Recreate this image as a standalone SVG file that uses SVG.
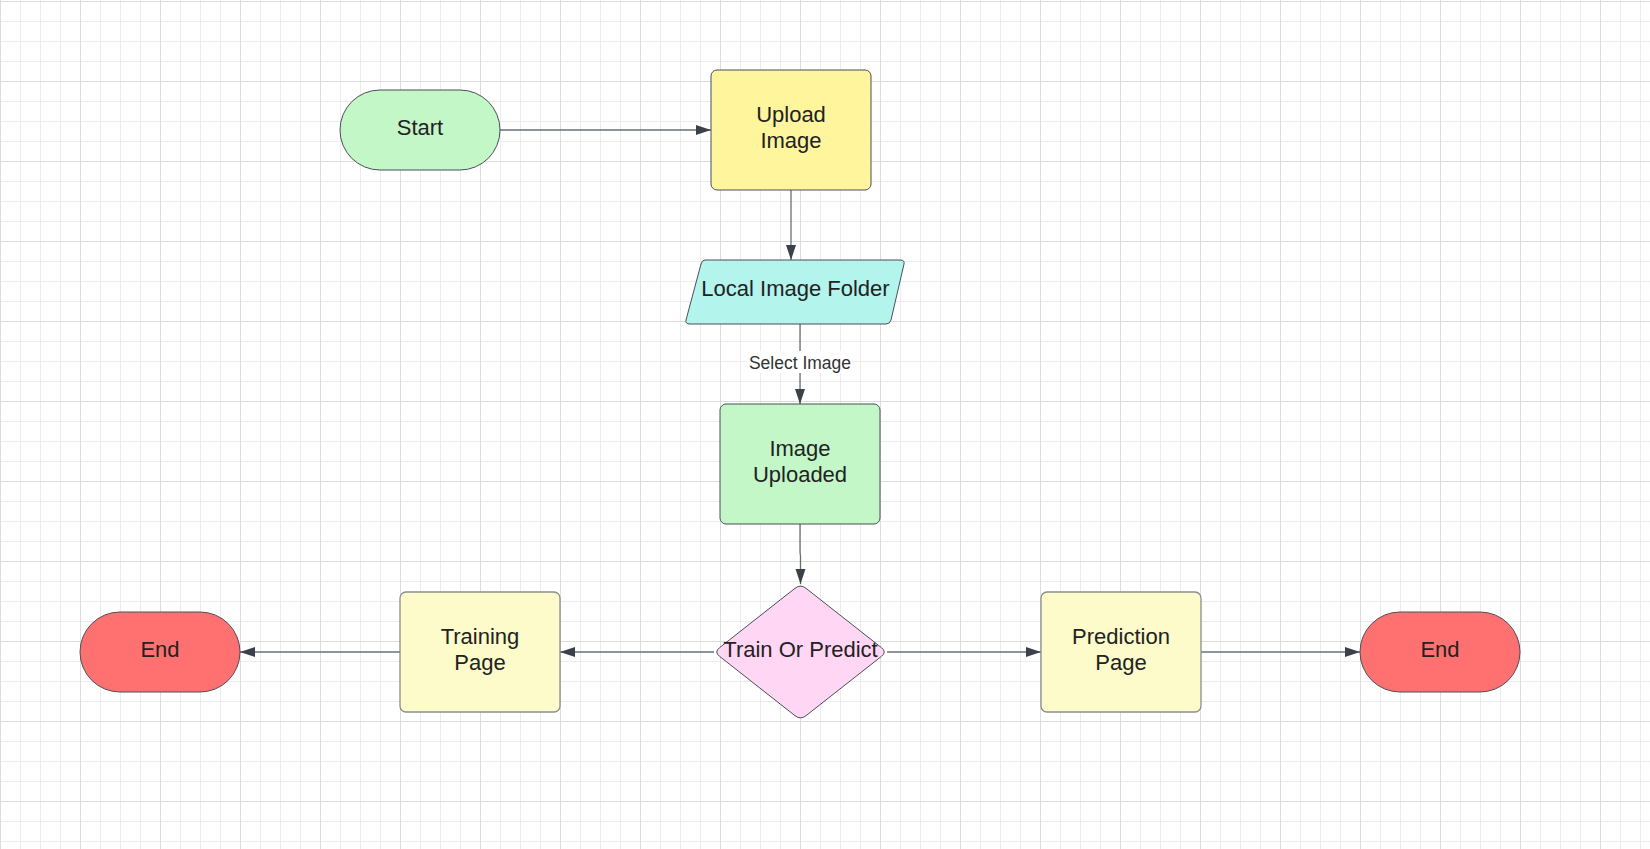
<svg xmlns="http://www.w3.org/2000/svg" width="1650" height="849" viewBox="0 0 1650 849">
<defs>
<pattern id="minor" x="0" y="1" width="20" height="20" patternUnits="userSpaceOnUse">
<rect x="0" y="0" width="20" height="1" fill="#ececec"/>
<rect x="0" y="0" width="1" height="20" fill="#ececec"/>
</pattern>
<pattern id="major" x="0" y="1" width="80" height="80" patternUnits="userSpaceOnUse">
<rect x="0" y="0" width="80" height="1" fill="#dcdcdc"/>
<rect x="0" y="0" width="1" height="80" fill="#dcdcdc"/>
</pattern>
<marker id="arrow" markerUnits="userSpaceOnUse" markerWidth="16" markerHeight="11" refX="15" refY="5" orient="auto">
<path d="M0,0 L15,5 L0,10 Z" fill="#3a414a"/>
</marker>
</defs>
<style>
.edge{fill:none;stroke:#6a7078;stroke-width:1.3;marker-end:url(#arrow)}
.shape{stroke:#4a4f57;stroke-width:1}
.page{stroke:#8a8d90;stroke-width:1.3}
.lbl{font-family:"Liberation Sans",Arial,sans-serif;font-size:22px;fill:#222;text-anchor:middle}
.elbl{font-family:"Liberation Sans",Arial,sans-serif;font-size:17.5px;fill:#333;text-anchor:middle}
</style>
<rect width="1650" height="849" fill="#ffffff"/>
<rect width="1650" height="849" fill="url(#minor)"/>
<rect width="1650" height="849" fill="url(#major)"/>

<g id="connectors">
<path class="edge" d="M500,130 L711,130"/>
<path class="edge" d="M791,190 L791,260"/>
<path class="edge" d="M800,324 L800,404"/>
<rect x="747" y="351" width="106" height="22" fill="#ffffff"/>
<text class="elbl" x="800" y="369">Select Image</text>
<path class="edge" d="M800,524 L800,552 L800.5,556 L800.5,584"/>
<path class="edge" d="M714,652 L560,652"/>
<path class="edge" d="M400,652 L240,652"/>
<path class="edge" d="M887,652 L1041,652"/>
<path class="edge" d="M1201,652 L1360,652"/>
</g>

<g id="start">
<rect class="shape" x="340" y="90" width="160" height="80" rx="40" fill="#c3f7c8"/>
<text class="lbl" x="420" y="135">Start</text>
</g>

<g id="upload-image">
<rect class="shape" x="711" y="70" width="160" height="120" rx="6" fill="#fff59d"/>
<text class="lbl" x="791" y="122">Upload</text>
<text class="lbl" x="791" y="148">Image</text>
</g>

<g id="local-image-folder">
<path class="shape" d="M705,260 L900,260 Q905,260 904,264 L891,320 Q890,324 886,324 L690,324 Q685,324 686,320 L701,264 Q702,260 705,260 Z" fill="#b3f4ec"/>
<text class="lbl" x="795.5" y="296">Local Image Folder</text>
</g>

<g id="image-uploaded">
<rect class="shape" x="720" y="404" width="160" height="120" rx="6" fill="#c3f7c8"/>
<text class="lbl" x="800" y="456">Image</text>
<text class="lbl" x="800" y="482">Uploaded</text>
</g>

<g id="train-or-predict">
<path class="shape" d="M795,588.3 Q800.5,584 806,588.3 L881.5,647.7 Q887,652 881.5,656.3 L806,715.7 Q800.5,720 795,715.7 L719.5,656.3 Q714,652 719.5,647.7 Z" fill="#ffd6f4"/>
<text class="lbl" x="800.5" y="657">Train Or Predict</text>
</g>

<g id="training-page">
<rect class="page" x="400" y="592" width="160" height="120" rx="6" fill="#fcfbc9"/>
<text class="lbl" x="480" y="644">Training</text>
<text class="lbl" x="480" y="670">Page</text>
</g>

<g id="prediction-page">
<rect class="page" x="1041" y="592" width="160" height="120" rx="6" fill="#fcfbc9"/>
<text class="lbl" x="1121" y="644">Prediction</text>
<text class="lbl" x="1121" y="670">Page</text>
</g>

<g id="end-left">
<rect class="shape" x="80" y="612" width="160" height="80" rx="40" fill="#ff7070"/>
<text class="lbl" x="160" y="657">End</text>
</g>

<g id="end-right">
<rect class="shape" x="1360" y="612" width="160" height="80" rx="40" fill="#ff7070"/>
<text class="lbl" x="1440" y="657">End</text>
</g>
</svg>
